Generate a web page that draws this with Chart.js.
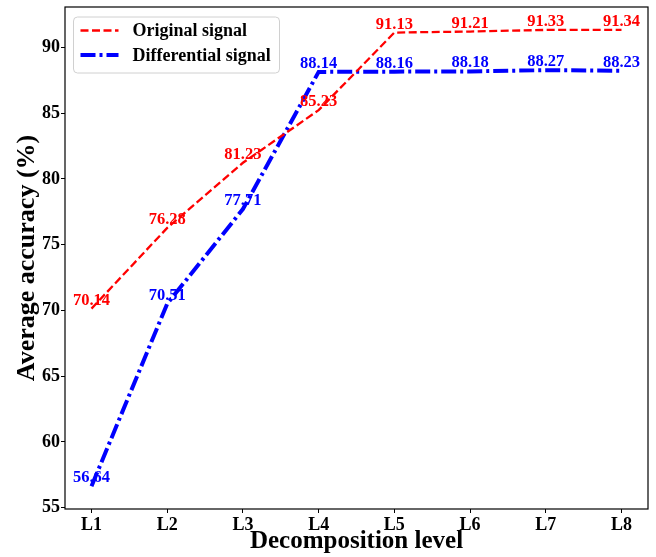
<!DOCTYPE html>
<html lang="en">
<head>
  <meta charset="UTF-8">
  <script src="https://cdn.jsdelivr.net/npm/chart.js@4.4.0/dist/chart.umd.min.js"></script>
  <style>
    body { margin: 0; background: #fff; }
    #wrap { position: absolute; left: 0; top: 0; width: 656px; height: 557px; }
  </style>
</head>
<body>
  <div id="wrap"><canvas id="accChart" width="656" height="557"></canvas></div>
  <script>
    const levels = ['L1', 'L2', 'L3', 'L4', 'L5', 'L6', 'L7', 'L8'];
    const originalAcc = [70.14, 76.28, 81.23, 85.23, 91.13, 91.21, 91.33, 91.34];
    const differentialAcc = [56.64, 70.51, 77.71, 88.14, 88.16, 88.18, 88.27, 88.23];
    const yTicks = [55, 60, 65, 70, 75, 80, 85, 90];

    const serif = "'Liberation Serif', 'Times New Roman', serif";

    function toPoints(arr) {
      return arr.map((v, i) => ({ x: i, y: v }));
    }

    // value labels above each point
    const valueLabels = {
      id: 'valueLabels',
      afterDatasetsDraw(chart) {
        const ctx = chart.ctx;
        ctx.save();
        ctx.font = 'bold 16.5px ' + serif;
        ctx.textAlign = 'center';
        ctx.textBaseline = 'alphabetic';
        chart.data.datasets.forEach((ds, di) => {
          const meta = chart.getDatasetMeta(di);
          ctx.fillStyle = ds.borderColor;
          meta.data.forEach((pt, i) => {
            ctx.fillText(ds.data[i].y.toFixed(2), pt.x, pt.y - 4);
          });
        });
        ctx.restore();
      }
    };

    // box around the plot + legend
    const frameAndLegend = {
      id: 'frameAndLegend',
      afterDraw(chart) {
        const ctx = chart.ctx;
        const a = chart.chartArea;
        ctx.save();
        ctx.strokeStyle = '#000';
        ctx.lineWidth = 1.2;
        ctx.strokeRect(a.left, a.top, a.right - a.left, a.bottom - a.top);

        // legend box
        const bx = a.left + 8.5, by = a.top + 10, bw = 206, bh = 56, r = 4;
        ctx.beginPath();
        ctx.moveTo(bx + r, by);
        ctx.arcTo(bx + bw, by, bx + bw, by + bh, r);
        ctx.arcTo(bx + bw, by + bh, bx, by + bh, r);
        ctx.arcTo(bx, by + bh, bx, by, r);
        ctx.arcTo(bx, by, bx + bw, by, r);
        ctx.closePath();
        ctx.fillStyle = 'rgba(255,255,255,0.8)';
        ctx.fill();
        ctx.strokeStyle = '#d0d0d0';
        ctx.lineWidth = 1;
        ctx.stroke();

        ctx.font = 'bold 18px ' + serif;
        ctx.textAlign = 'left';
        ctx.textBaseline = 'middle';
        chart.data.datasets.forEach((ds, i) => {
          const cy = by + 13.5 + i * 24.5;
          ctx.beginPath();
          ctx.setLineDash(ds.borderDash);
          ctx.lineWidth = ds.borderWidth;
          ctx.strokeStyle = ds.borderColor;
          ctx.moveTo(bx + 7, cy);
          ctx.lineTo(bx + 45, cy);
          ctx.stroke();
          ctx.setLineDash([]);
          ctx.fillStyle = '#000';
          ctx.fillText(ds.label, bx + 59, cy + 1);
        });
        ctx.restore();
      }
    };

    new Chart(document.getElementById('accChart'), {
      type: 'line',
      data: {
        datasets: [
          {
            label: 'Original signal',
            data: toPoints(originalAcc),
            borderColor: '#ff0000',
            borderWidth: 2.3,
            borderDash: [8, 3.5],
            pointRadius: 0,
            tension: 0,
            fill: false
          },
          {
            label: 'Differential signal',
            data: toPoints(differentialAcc),
            borderColor: '#0000ff',
            borderWidth: 4,
            borderDash: [15, 4, 3, 4],
            pointRadius: 0,
            tension: 0,
            fill: false
          }
        ]
      },
      options: {
        responsive: false,
        animation: false,
        layout: { padding: { top: 7, right: 8, left: 0, bottom: 0 } },
        plugins: {
          legend: { display: false },
          tooltip: { enabled: false }
        },
        scales: {
          x: {
            type: 'linear',
            min: -0.35,
            max: 7.35,
            afterBuildTicks: s => { s.ticks = levels.map((c, i) => ({ value: i })); },
            afterFit: s => { s.height = 48; s.paddingLeft = 0; s.paddingRight = 0; },
            grid: { display: true, drawOnChartArea: false, drawTicks: true, tickLength: 4, color: '#000' },
            border: { display: false },
            ticks: {
              color: '#000',
              padding: 2,
              maxRotation: 0,
              font: { family: serif, size: 18, weight: 'bold' },
              callback: v => levels[v]
            },
            title: {
              display: true,
              text: 'Decomposition level',
              color: '#000',
              font: { family: serif, size: 25, weight: 'bold' },
              padding: { top: 0, bottom: 0 }
            }
          },
          y: {
            min: 54.905,
            max: 93.075,
            afterBuildTicks: s => { s.ticks = yTicks.map(v => ({ value: v })); },
            afterFit: s => { s.width = 65; s.paddingTop = 0; s.paddingBottom = 0; },
            grid: { display: true, drawOnChartArea: false, drawTicks: true, tickLength: 4, color: '#000' },
            border: { display: false },
            ticks: {
              color: '#000',
              padding: 1,
              font: { family: serif, size: 18, weight: 'bold' }
            },
            title: {
              display: true,
              text: 'Average accuracy (%)',
              color: '#000',
              font: { family: serif, size: 26, weight: 'bold' },
              padding: { top: 12, bottom: 0 }
            }
          }
        }
      },
      plugins: [valueLabels, frameAndLegend]
    });
  </script>
</body>
</html>
